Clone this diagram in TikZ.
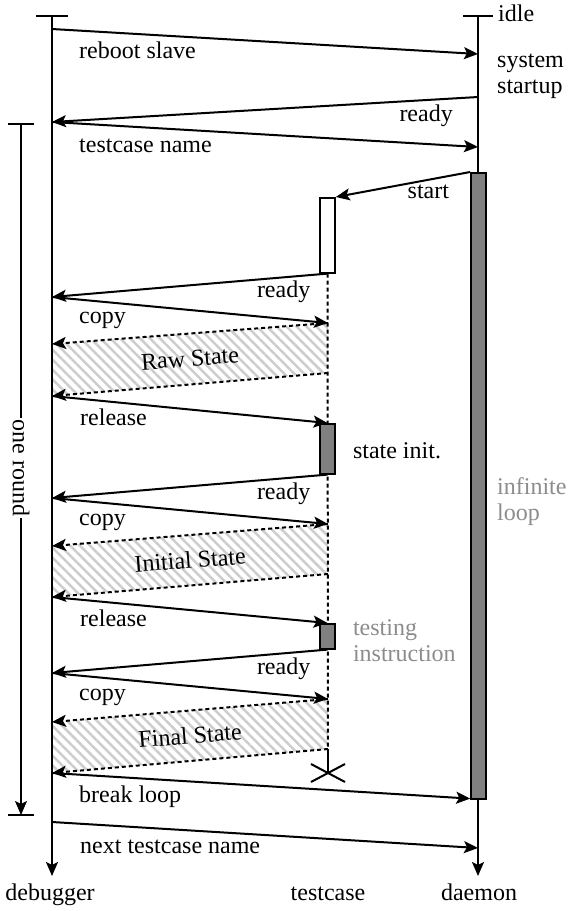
\documentclass[tikz,border=0pt]{standalone}
\usepackage{fontspec}
\setmainfont{Liberation Serif}
\usepackage{tikz}
\usetikzlibrary{arrows.meta,calc,positioning,patterns.meta}
\definecolor{barGray}{HTML}{808080}
\definecolor{noteGray}{HTML}{8C8C8C}
\definecolor{hatchGray}{HTML}{CDCDCD}
\tikzset{
  life/.style={line width=2pt},
  tip/.style={-{Stealth[length=14pt,width=12pt,inset=3pt]}},
  msg/.style={line width=2pt,tip},
  reply/.style={msg,dash pattern=on 4pt off 3pt},
  lbl/.style={font=\fontsize{24}{26}\selectfont,inner sep=0pt},
  msglbl/.style={lbl,text height=16pt,text depth=5pt},
  actbox/.style={draw,line width=1.6pt,minimum width=15pt,inner sep=0pt,anchor=north},
  statefill/.style={pattern={Lines[angle=-45,distance=7pt,line width=2.5pt]},pattern color=hatchGray}
}

\begin{document}
\begin{tikzpicture}[x=1pt,y=-1pt]
\useasboundingbox (0,0) rectangle (569,911);
\coordinate (dbgTop) at (52,16); \coordinate (dbgEnd) at (52,876);
\coordinate (dmnTop) at (478,16); \coordinate (dmnEnd) at (478,876);
\foreach \n/\y in {1/29,2/122,3/297,4/344,5/396,6/498,7/546,8/597,9/673,10/722,11/773,12/822}
  \coordinate (d\n) at (52,\y);
\foreach \n/\y in {1/54,2/97,3/147,4/848}
  \coordinate (m\n) at (478,\y);
\foreach \n/\y in {1/323,2/373,3/524,4/574,5/699,6/749,7/773}
  \coordinate (t\n) at (328,\y);
\coordinate (roundTop) at (21,124); \coordinate (roundEnd) at (21,815);

\fill[statefill] (d4) -- (t1) -- (t2) -- (d5) -- cycle;
\fill[statefill] (d7) -- (t3) -- (t4) -- (d8) -- cycle;
\fill[statefill] (d10) -- (t5) -- (t6) -- (d11) -- cycle;

\draw[life,tip] (dbgTop) -- (dbgEnd);
\draw[life,tip] (dmnTop) -- (dmnEnd);
\draw[life] ($(dbgTop)+(-16,0)$) -- ($(dbgTop)+(16,0)$);
\draw[life] ($(dmnTop)+(-15,0)$) -- ($(dmnTop)+(15,0)$);
\node[actbox,fill=barGray,minimum height=626pt] (loopBar) at (478.5,172) {};
\node[actbox,fill=white,minimum height=75pt] (tcRun) at (327.5,197) {};
\draw[life,dash pattern=on 4pt off 3pt] (tcRun.south) -- (t6);
\draw[life] (t6) -- (t7);
\draw[life] ($(t7)+(-17,-9)$) -- ($(t7)+(17,9)$) ($(t7)+(-17,9)$) -- ($(t7)+(17,-9)$);
\node[actbox,fill=barGray,minimum height=50pt] (tcInit) at (327.5,423) {};
\node[actbox,fill=barGray,minimum height=25pt] (tcStep) at (327.5,623) {};

\draw[line width=1.3pt,tip] (roundTop) -- (roundEnd);
\draw[line width=1.3pt] ($(roundTop)+(-13,0)$) -- ($(roundTop)+(13,0)$)
  ($(roundEnd)+(-13,0)$) -- ($(roundEnd)+(13,0)$);
\node[lbl,rotate=-90,fill=white,inner xsep=2pt] (lbRound) at (21,468) {one round};

\draw[msg] (d1) -- (m1);
\draw[msg] (m2) -- (d2);
\draw[msg] (d2) -- (m3);
\draw[msg] (loopBar.north west) -- (tcRun.north east);
\draw[msg] (tcRun.south) -- (d3);
\draw[msg] (d3) -- (t1);
\draw[reply] (t1) -- (d4);
\draw[reply] (t2) -- (d5);
\draw[msg] (d5) -- (tcInit.north);
\draw[msg] (tcInit.south) -- (d6);
\draw[msg] (d6) -- (t3);
\draw[reply] (t3) -- (d7);
\draw[reply] (t4) -- (d8);
\draw[msg] (d8) -- (tcStep.north);
\draw[msg] (tcStep.south) -- (d9);
\draw[msg] (d9) -- (t5);
\draw[reply] (t5) -- (d10);
\draw[reply] (t6) -- (d11);
\draw[msg] (d11) -- ($(loopBar.south west)+(0,-1)$);
\draw[msg] (d12) -- (m4);

\node[msglbl,anchor=west] (lbIdle) at ($(dmnTop)+(20,0)$) {idle};
\node[lbl,anchor=west,align=left] (lbStartup) at (497,76) {system\\startup};
\node[msglbl,anchor=west] (lbReboot) at ($(d1)+(27,24)$) {reboot slave};
\node[msglbl,anchor=east] (lbReady1) at ($(m2)+(-25,19)$) {ready};
\node[msglbl,anchor=west] (lbName) at ($(d2)+(27,25)$) {testcase name};
\node[msglbl,anchor=east] (lbStart) at ($(loopBar.north west)+(-21,21)$) {start};
\node[msglbl,anchor=east] (lbReady2) at ($(tcRun.south)+(-17,18)$) {ready};
\node[msglbl,anchor=east] (lbReady3) at ($(tcInit.south)+(-17,19)$) {ready};
\node[msglbl,anchor=east] (lbReady4) at ($(tcStep.south)+(-17,19)$) {ready};
\node[msglbl,anchor=west] (lbCopy1) at ($(d3)+(27,21)$) {copy};
\node[msglbl,anchor=west] (lbCopy2) at ($(d6)+(27,22)$) {copy};
\node[msglbl,anchor=west] (lbCopy3) at ($(d9)+(27,22)$) {copy};
\node[lbl,rotate=4.5] (lbRaw) at ($(d4)!0.5!(t2)$) {Raw State};
\node[lbl,rotate=4.5] (lbInitial) at ($(d7)!0.5!(t4)$) {Initial State};
\node[lbl,rotate=4.5] (lbFinal) at ($(d10)!0.5!(t6)$) {Final State};
\node[msglbl,anchor=west] (lbRelease1) at ($(d5)+(28,24)$) {release};
\node[msglbl,anchor=west] (lbRelease2) at ($(d8)+(28,24)$) {release};
\node[msglbl,anchor=west] (lbInit) at ($(tcInit.east)+(17,4)$) {state init.};
\node[lbl,anchor=west,align=left,text=noteGray] (lbStep) at ($(tcStep.east)+(17,4)$) {testing\\instruction};
\node[lbl,anchor=west,align=left,text=noteGray] (lbLoop) at (497,502) {infinite\\loop};
\node[msglbl,anchor=west] (lbBreak) at ($(d11)+(27,24)$) {break loop};
\node[msglbl,anchor=west] (lbNext) at ($(d12)+(28,26)$) {next testcase name};
\node[msglbl] (dbgName) at (50,895) {debugger};
\node[msglbl] (tcName) at (328,895) {testcase};
\node[msglbl] (dmnName) at (479,895) {daemon};
\end{tikzpicture}
\end{document}
